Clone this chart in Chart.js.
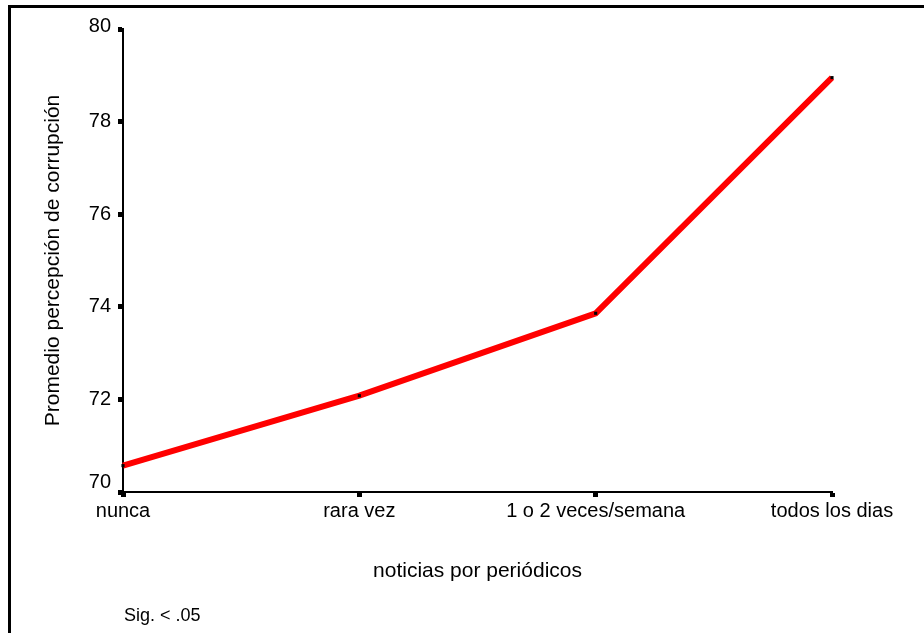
<!DOCTYPE html>
<html>
<head>
<meta charset="utf-8">
<title>Promedio percepción de corrupción</title>
<script src="https://cdn.jsdelivr.net/npm/chart.js@4.4.1/dist/chart.umd.min.js"></script>
<style>
  body { margin: 0; background: #fff; }
  canvas { display: block; }
</style>
</head>
<body>
<canvas id="chart" width="924" height="633"></canvas>
<script>
// data
const categories = ['nunca', 'rara vez', '1 o 2 veces/semana', 'todos los dias'];
const means = [70.57, 72.08, 73.86, 78.95];
const yTicks = [70, 72, 74, 76, 78, 80];

const yTitle = 'Promedio percepción de corrupción';
const xTitle = 'noticias por periódicos';
const note = 'Sig. < .05';

Chart.defaults.font.family = '"Liberation Sans", Arial, sans-serif';
Chart.defaults.color = '#000';

// frame (top + left edge) and the significance note
const extras = {
    id: 'extras',
    beforeDraw(chart) {
        const ctx = chart.ctx;
        ctx.save();
        ctx.fillStyle = '#000';
        ctx.fillRect(8, 5, 924, 3);
        ctx.fillRect(8, 5, 3, 633);
        ctx.restore();

        // the end labels of the y axis sit a little higher than their ticks
        const items = chart.scales.y.getLabelItems();
        if (!items._nudged) {
            items[0].options.translation[1] -= 10;
            items[items.length - 1].options.translation[1] -= 3;
            items._nudged = true;
        }
    },
    afterDraw(chart) {
        const ctx = chart.ctx;
        ctx.save();
        ctx.fillStyle = '#000';
        ctx.font = '18px "Liberation Sans", Arial, sans-serif';
        ctx.textBaseline = 'alphabetic';
        ctx.fillText(note, 124, 621);
        ctx.restore();
    }
};

new Chart(document.getElementById('chart'), {
    type: 'line',
    data: {
        labels: categories,
        datasets: [{
            data: means,
            borderColor: '#ff0000',
            borderWidth: 6,
            tension: 0,
            pointStyle: 'rect',
            pointRadius: 2.2,
            pointBackgroundColor: '#000',
            pointBorderWidth: 0
        }]
    },
    options: {
        responsive: false,
        devicePixelRatio: 1,
        animation: false,
        layout: { padding: { left: 10, top: 29, right: 92, bottom: 0 } },
        plugins: {
            legend: { display: false },
            tooltip: { enabled: false }
        },
        scales: {
            x: {
                offset: false,
                grid: { drawOnChartArea: false, color: '#000', tickLength: 5, tickWidth: 5 },
                border: { color: '#000', width: 2 },
                ticks: { font: { size: 20 }, padding: 2, maxRotation: 0, autoSkip: false },
                title: { display: true, text: xTitle, font: { size: 21 }, padding: { top: 0, bottom: 49 } },
                afterFit(scale) { scale.height = 141; }
            },
            y: {
                min: yTicks[0],
                max: yTicks[yTicks.length - 1],
                afterBuildTicks(scale) { scale.ticks = yTicks.map(v => ({ value: v })); },
                grid: { drawOnChartArea: false, color: '#000', tickLength: 5, tickWidth: 5 },
                border: { color: '#000', width: 2 },
                ticks: { font: { size: 20 }, padding: 7 },
                title: { display: true, text: yTitle, font: { size: 21 }, padding: { top: 31, bottom: 0 } },
                afterFit(scale) { scale.width = 113; }
            }
        }
    },
    plugins: [extras]
});
</script>
</body>
</html>
